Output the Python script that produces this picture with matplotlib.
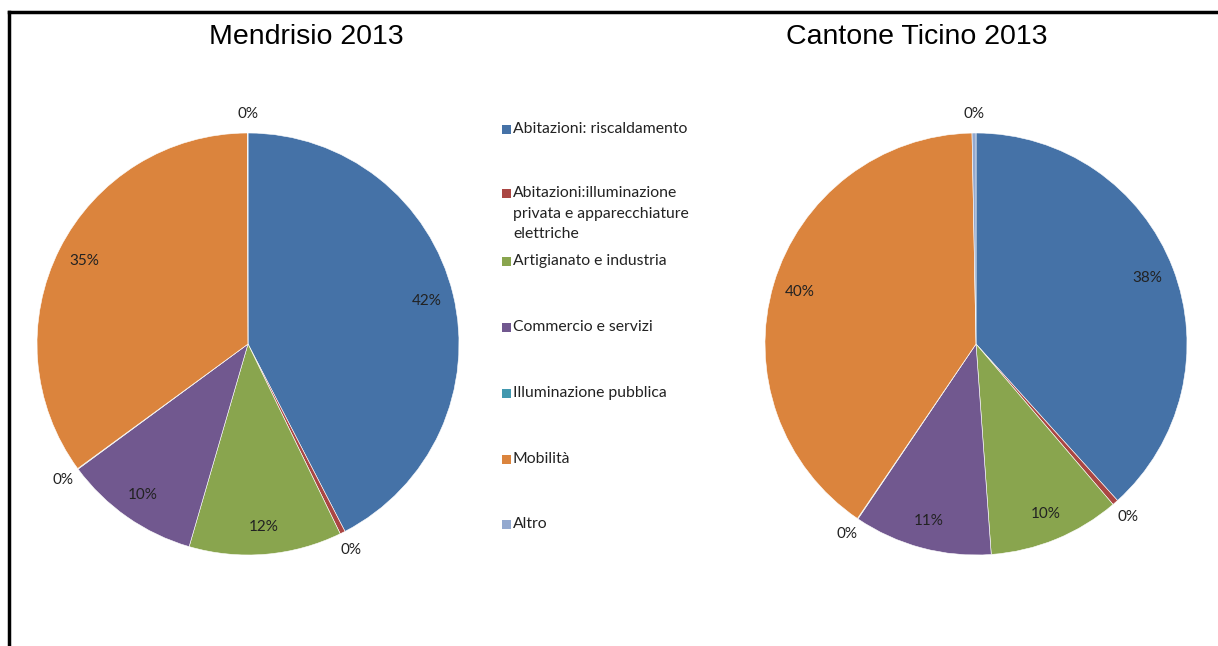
import matplotlib.pyplot as plt
import numpy as np
from matplotlib.lines import Line2D
from matplotlib.patches import Rectangle

categories = ['Abitazioni: riscaldamento',
              'Abitazioni:illuminazione\nprivata e apparecchiature\nelettriche',
              'Artigianato e industria',
              'Commercio e servizi',
              'Illuminazione pubblica',
              'Mobilità',
              'Altro']
colors = ['#4572A7', '#AA4643', '#89A54E', '#71588F', '#4198AF', '#DB843D', '#93A9CF']

mendrisio = [42.4, 0.4, 11.7, 10.4, 0.05, 35.0, 0.05]
ticino = [38.3, 0.45, 10.1, 10.6, 0.05, 40.2, 0.3]

W, H = 1218, 646
fig = plt.figure(figsize=(W / 100, H / 100), dpi=100)


def px_axes(cx, cy, r):
    return fig.add_axes([(cx - r) / W, (H - cy - r) / H, 2 * r / W, 2 * r / H])


def draw_pie(ax, values, title, title_x):
    wedges, _ = ax.pie(values, colors=colors, startangle=90, counterclock=False,
                       radius=1, wedgeprops=dict(linewidth=0.4, edgecolor='white'))
    total = sum(values)
    for w, v in zip(wedges, values):
        mid = np.deg2rad((w.theta1 + w.theta2) / 2)
        pct = v / total * 100
        d = 0.87 if pct >= 1 else 1.09
        ax.text(d * np.cos(mid), d * np.sin(mid), '%.0f%%' % pct,
                ha='center', va='center', fontsize=11, family='Lato', color='#222222')
    ax.set_xlim(-1, 1)
    ax.set_ylim(-1, 1)
    ax.set_aspect('equal')
    ax.axis('off')
    fig.text(title_x / W, 1 - 37 / H, title, ha='center', va='center',
             fontsize=20.5, family='Liberation Sans')


ax1 = px_axes(248, 344, 211)
draw_pie(ax1, mendrisio, 'Mendrisio 2013', 306)
ax2 = px_axes(976, 344, 211)
draw_pie(ax2, ticino, 'Cantone Ticino 2013', 917)

# legend
leg_y = [129, 193, 261, 327, 393, 459, 524]
for lab, c, y in zip(categories, colors, leg_y):
    fig.patches.append(Rectangle((502 / W, 1 - (y + 5) / H), 9 / W, 9 / H,
                                 transform=fig.transFigure, facecolor=c, edgecolor='none'))
    fig.text(513 / W, 1 - (y - 7) / H, lab, ha='left', va='top', fontsize=11.3,
             family='Lato', color='#222222', linespacing=1.6)

# frame lines
fig.add_artist(Line2D([9 / W, 9 / W], [0, 1 - 12 / H], color='black', linewidth=2.5))
fig.add_artist(Line2D([9 / W, 1], [1 - 12 / H, 1 - 12 / H], color='black', linewidth=2.5))

fig.savefig('out.png', dpi=100)
